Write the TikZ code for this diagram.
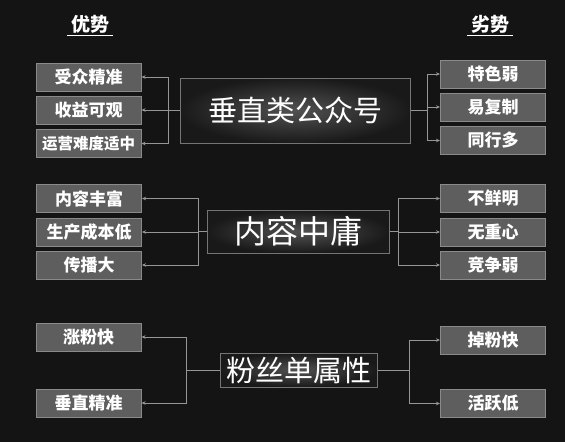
\documentclass[tikz,border=0pt]{standalone}
\usepackage{fontspec}
\setmainfont{Noto Sans CJK SC}
\usetikzlibrary{arrows.meta,calc,positioning}
\definecolor{bgcolor}{RGB}{20,20,20}
\definecolor{boxfill}{RGB}{94,94,94}
\definecolor{boxline}{RGB}{138,138,138}
\definecolor{linkcolor}{RGB}{150,150,150}

\begin{document}
\begin{tikzpicture}[x=1pt,y=-1pt]
  \tikzset{
    itembox/.style={draw=boxline,fill=boxfill,line width=1pt,text=white,minimum width=105pt,minimum height=28pt,inner sep=0pt,font=\fontsize{17}{17}\selectfont\bfseries},
    mainbox/.style={draw=boxline!85!black,line width=1pt,inner color=black!68,outer color=black!90,text=white,inner sep=0pt},
    link/.style={draw=linkcolor,line width=0.8pt,-{Stealth[length=4pt,width=3.5pt]}},
    headline/.style={text=white,font=\fontsize{19}{19}\selectfont\bfseries,inner xsep=4pt,inner ysep=0pt}
  }
  \fill[bgcolor] (0,0) rectangle (565,442);
  % ---------------- headings
  \node[headline] (adv) at (90,24) {优势};
  \draw[white,line width=1.2pt] ([yshift=-2pt]adv.south west) -- ([yshift=-2pt]adv.south east);
  \node[headline] (disadv) at (490,24) {劣势};
  \draw[white,line width=1.2pt] ([yshift=-2pt]disadv.south west) -- ([yshift=-2pt]disadv.south east);
  % ---------------- 垂直类公众号
  \node[mainbox,minimum width=230pt,minimum height=65pt,font=\fontsize{29}{29}\selectfont] (m1) at (295,110.5) {垂直类公众号};
  \coordinate (lj1) at (168,110.5); \coordinate (rj1) at (427,110.5);
  \foreach \k/\y/\lab in {1/77/受众精准,2/110/收益可观,3/143.5/{\fontsize{15.5}{15.5}\selectfont 运营难度适中}} {
    \node[itembox] (l1\k) at (88.5,\y) {\lab};
    \draw[link] (m1.west) -- (lj1) |- (l1\k.east);
  }
  \foreach \k/\y/\lab in {1/74/特色弱,2/107/易复制,3/140.5/同行多} {
    \node[itembox] (r1\k) at (493,\y) {\lab};
    \draw[link] (m1.east) -- (rj1) |- (r1\k.west);
  }
  % ---------------- 内容中庸
  \node[mainbox,minimum width=182pt,minimum height=43pt,font=\fontsize{32}{32}\selectfont] (m2) at (298,231.5) {内容中庸};
  \coordinate (lj2) at (198,231.5); \coordinate (rj2) at (398,231.5);
  \foreach \k/\y/\lab in {1/198.5/内容丰富,2/232/生产成本低,3/265/传播大} {
    \node[itembox] (l2\k) at (89,\y) {\lab};
    \draw[link] (m2.west) -- (lj2) |- (l2\k.east);
  }
  \foreach \k/\y/\lab in {1/198.5/不鲜明,2/232/无重心,3/265/竞争弱} {
    \node[itembox] (r2\k) at (493,\y) {\lab};
    \draw[link] (m2.east) -- (rj2) |- (r2\k.west);
  }
  % ---------------- 粉丝单属性
  \node[mainbox,minimum width=157pt,minimum height=34pt,font=\fontsize{29}{29}\selectfont] (m3) at (298.5,370) {粉丝单属性};
  \coordinate (lj3) at (186,370); \coordinate (rj3) at (409,370);
  \foreach \k/\y/\lab in {1/337/涨粉快,2/403/垂直精准} {
    \node[itembox] (l3\k) at (88.5,\y) {\lab};
    \draw[link] (m3.west) -- (lj3) |- (l3\k.east);
  }
  \foreach \k/\y/\lab in {1/340/掉粉快,2/403.5/活跃低} {
    \node[itembox] (r3\k) at (493,\y) {\lab};
    \draw[link] (m3.east) -- (rj3) |- (r3\k.west);
  }
\end{tikzpicture}
\end{document}
